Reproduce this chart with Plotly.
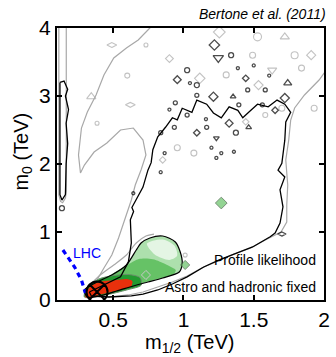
import plotly.graph_objects as go

# ---------------- data (TeV) ----------------
# outer profile-likelihood contour (black)
outer_x = [0.330, 0.434, 0.552, 0.608, 0.629, 0.622, 0.645, 0.633, 0.664, 0.712, 0.747, 0.770, 0.782, 0.817, 0.872,
           0.921, 0.956, 0.991, 1.060, 1.095, 1.165, 1.213, 1.269, 1.325, 1.387, 1.422, 1.464, 1.527, 1.603,
           1.666, 1.721, 1.763, 1.728, 1.721, 1.700, 1.673, 1.721, 1.687, 1.708, 1.687, 1.652, 1.617, 1.492,
           1.373, 1.255, 1.144, 1.026, 0.921, 0.817, 0.712, 0.629, 0.469, 0.344, 0.330]
outer_y = [0.118, 0.22, 0.34, 0.56, 0.84, 1.18, 1.30, 1.36, 1.47, 1.66, 1.91, 2.02, 2.21, 2.40, 2.54,
           2.68, 2.65, 2.82, 2.76, 2.94, 2.88, 2.75, 2.68, 2.84, 2.79, 2.68, 2.76, 2.88, 2.84,
           2.94, 2.88, 2.76, 2.62, 2.35, 2.01, 1.91, 1.81, 1.62, 1.37, 1.13, 0.985, 0.93, 0.78,
           0.69, 0.59, 0.485, 0.34, 0.235, 0.147, 0.088, 0.06, 0.044, 0.06, 0.118]

# outer profile-likelihood contour (grey)
grey_x = [0.302, 0.364, 0.434, 0.490, 0.538, 0.587, 0.629, 0.657, 0.698, 0.733, 0.712, 0.643, 0.552, 0.455,
          0.364, 0.295, 0.267, 0.253, 0.274, 0.316, 0.378, 0.434, 0.504, 0.594, 0.678, 0.747, 0.803,
          2.07, 2.07, 1.965, 1.861, 1.791, 1.763, 1.749, 1.728, 1.742, 1.735, 1.735, 1.694, 1.582, 1.478,
          1.360, 1.248, 1.130, 1.026, 0.921, 0.817, 0.712, 0.608, 0.469, 0.344, 0.302]
grey_y = [0.088, 0.221, 0.471, 0.662, 0.912, 1.206, 1.471, 1.691, 1.912, 2.132, 2.353, 2.529, 2.500, 2.309,
          2.176, 1.985, 1.868, 2.132, 2.529, 2.765, 3.015, 3.309, 3.559, 3.706, 3.824, 3.971, 4.088,
          4.088, 3.53, 3.235, 3.015, 2.824, 2.647, 2.353, 2.059, 1.691, 1.397, 1.147, 1.0, 0.882, 0.765,
          0.676, 0.574, 0.471, 0.353, 0.265, 0.191, 0.118, 0.074, 0.044, 0.044, 0.088]

# grey contour running just outside the green region
grey2_x = [0.316, 0.399, 0.504, 0.594, 0.664, 0.733, 0.790]
grey2_y = [0.176, 0.353, 0.515, 0.662, 0.838, 0.941, 0.970]

# narrow strip along the left edge
strip_grey_x = [0.113, 0.113, 0.125, 0.140, 0.160, 0.166, 0.166, 0.113]
strip_grey_y = [4.10, 1.55, 1.45, 1.43, 1.50, 1.60, 4.10, 4.10]
strip_black_x = [0.121, 0.121, 0.135, 0.160, 0.165, 0.176, 0.165, 0.182, 0.160, 0.176, 0.150, 0.121]
strip_black_y = [3.20, 1.55, 1.47, 1.55, 2.00, 2.30, 2.60, 2.80, 3.00, 3.10, 3.22, 3.20]

# "Astro and hadronic fixed" posterior regions
green_x = [0.295, 0.399, 0.490, 0.594, 0.664, 0.698, 0.761, 0.852, 0.942, 0.977, 0.991, 0.970, 0.852,
           0.747, 0.643, 0.524, 0.399, 0.316, 0.295]
green_y = [0.147, 0.279, 0.368, 0.515, 0.735, 0.838, 0.912, 0.941, 0.853, 0.706, 0.544, 0.412, 0.324,
           0.265, 0.206, 0.132, 0.059, 0.044, 0.147]
pale_x = [0.740, 0.852, 0.935, 0.955, 0.900, 0.795, 0.740]
pale_y = [0.830, 0.890, 0.800, 0.650, 0.590, 0.670, 0.830]
mid_x = [0.302, 0.364, 0.469, 0.573, 0.678, 0.782, 0.880, 0.945, 0.930, 0.800, 0.650, 0.500, 0.302]
mid_y = [0.074, 0.235, 0.353, 0.480, 0.600, 0.600, 0.520, 0.440, 0.380, 0.300, 0.220, 0.120, 0.074]
dark_x = [0.295, 0.316, 0.399, 0.504, 0.608, 0.690, 0.700, 0.600, 0.434, 0.295]
dark_y = [0.044, 0.190, 0.310, 0.360, 0.375, 0.330, 0.220, 0.150, 0.070, 0.044]
red_x = [0.302, 0.316, 0.364, 0.434, 0.524, 0.594, 0.636, 0.629, 0.573, 0.483, 0.399, 0.330, 0.302]
red_y = [0.044, 0.147, 0.235, 0.279, 0.294, 0.309, 0.279, 0.206, 0.162, 0.118, 0.074, 0.029, 0.044]

# small noisy islands of the profile likelihood
isl_black_x = [1.220, 1.248, 1.339, 1.387, 1.443, 1.095, 1.095, 1.213, 1.353, 1.457, 1.394, 1.561, 1.721,
               1.742, 1.026, 0.956, 1.046, 0.942, 0.838, 0.866, 0.935, 1.095, 1.165, 1.234, 1.325, 1.373,
               1.359, 1.464, 0.838, 0.643, 1.199, 1.234, 1.269, 1.026, 1.582, 1.652, 0.135, 1.700,
               1.500, 1.160, 0.900, 1.610]
isl_black_y = [3.75, 3.56, 3.60, 3.41, 3.26, 3.16, 3.01, 2.99, 2.99, 3.09, 2.87, 2.87, 2.97,
               3.19, 3.38, 3.24, 3.19, 2.90, 2.46, 2.16, 2.54, 2.46, 2.54, 2.38, 2.60, 2.46,
               2.18, 2.54, 1.88, 1.57, 2.24, 2.09, 2.16, 2.72, 3.09, 2.79, 1.35, 0.97,
               3.45, 2.66, 2.80, 3.30]
isl_black_s = [8, 9, 5, 3, 5, 5, 4, 7, 5, 4, 4, 4, 7,
               7, 5, 6, 3, 4, 4, 3, 4, 5, 4, 5, 6, 5,
               3, 5, 3, 3, 3, 3, 3, 4, 4, 5, 5, 6,
               3, 3, 3, 3]
isl_black_sym = ["diamond-open", "triangle-down-open", "circle-open", "circle-open", "diamond-open",
                 "circle-open", "circle-open", "diamond-open", "triangle-up-open", "circle-open",
                 "circle-open", "circle-open", "diamond-open", "triangle-up-open", "circle-open",
                 "diamond-open", "circle-open", "circle-open", "circle-open", "circle-open",
                 "circle-open", "diamond-open", "circle-open", "triangle-down-open", "diamond-open",
                 "circle-open", "circle-open", "triangle-up-open", "circle-open", "circle-open",
                 "circle-open", "circle-open", "circle-open", "circle-open", "circle-open",
                 "diamond-open", "circle-open", "diamond-wide-open", "circle-open", "circle-open",
                 "circle-open", "circle-open"]
isl_grey_x = [1.255, 1.527, 1.721, 1.791, 1.909, 1.492, 1.116, 1.304, 1.631, 1.840, 1.534, 1.700, 1.930,
              1.582, 1.443, 1.074, 0.490, 0.733, 0.622, 0.385, 0.344, 0.956, 0.852, 1.012, 0.60, 0.90]
isl_grey_y = [3.94, 3.87, 3.87, 3.60, 3.60, 3.60, 3.26, 3.31, 3.38, 3.41, 3.16, 2.82, 2.82,
              2.72, 2.62, 2.16, 3.75, 3.75, 2.87, 2.60, 2.99, 2.24, 2.06, 0.66, 3.30, 3.55]
isl_grey_s = [9, 8, 8, 7, 7, 6, 8, 6, 8, 6, 7, 6, 6,
              5, 5, 6, 7, 4, 7, 4, 8, 6, 5, 4, 5, 6]
isl_grey_sym = ["diamond-open", "circle-open", "triangle-up-open", "circle-open", "diamond-open",
                "circle-open", "diamond-open", "circle-open", "triangle-down-open", "circle-open",
                "diamond-open", "circle-open", "circle-open", "circle-open", "diamond-open",
                "circle-open", "diamond-wide-open", "circle-open", "diamond-wide-open", "circle-open",
                "triangle-up-open", "circle-open", "diamond-open", "circle-open", "circle-open",
                "diamond-open"]

# LHC exclusion line
lhc_x = [0.142, 0.225, 0.274, 0.302]
lhc_y = [0.735, 0.485, 0.294, 0.103]

# best-fit point and other points
best_x, best_y = [0.385], [0.118]
gpt_x, gpt_y = [1.269, 1.012], [1.426, 0.515]
opt_x, opt_y = [0.733], [0.368]

xticks = [0.5, 1, 1.5, 2]
yticks = [0, 1, 2, 3, 4]

FONT = "Liberation Sans, Arial, sans-serif"

fig = go.Figure()

def poly(x, y, line_color=None, width=0.0, fill=None, shape="linear"):
    fig.add_trace(go.Scatter(
        x=x, y=y, mode="lines", hoverinfo="skip", showlegend=False,
        line=dict(color=line_color or "rgba(0,0,0,0)", width=width, shape=shape,
                  smoothing=0.8 if shape == "spline" else None),
        fill="toself" if fill else None, fillcolor=fill))

# grey contours
poly(grey_x, grey_y, "#a8a8a8", 1.2)
poly(strip_grey_x, strip_grey_y, "#a8a8a8", 1.2)
poly(grey2_x, grey2_y, "#a8a8a8", 1.2, None, "spline")

# green/red filled regions
poly(green_x, green_y, None, 0, "#ade0ad", "spline")
poly(pale_x, pale_y, None, 0, "#e4f5e4", "spline")
poly(mid_x, mid_y, None, 0, "#66c266", "spline")
poly(dark_x, dark_y, "#6c8c6c", 1.0, "#239a30", "spline")
poly(red_x, red_y, None, 0, "#e8300c", "spline")
poly(green_x, green_y, "#000000", 1.2, None, "spline")

# black contours
poly(outer_x, outer_y, "#000000", 1.3)
poly(strip_black_x, strip_black_y, "#000000", 1.3)

# islands
fig.add_trace(go.Scatter(x=isl_grey_x, y=isl_grey_y, mode="markers", hoverinfo="skip", showlegend=False,
                         marker=dict(symbol=isl_grey_sym, size=isl_grey_s, color="#a8a8a8",
                                     line=dict(width=1.1, color="#a8a8a8"))))
fig.add_trace(go.Scatter(x=isl_black_x, y=isl_black_y, mode="markers", hoverinfo="skip", showlegend=False,
                         marker=dict(symbol=isl_black_sym, size=isl_black_s, color="#000000",
                                     line=dict(width=1.3, color="#000000"))))

# LHC line
fig.add_trace(go.Scatter(x=lhc_x, y=lhc_y, mode="lines", hoverinfo="skip", showlegend=False,
                         line=dict(color="#0000ff", width=3.2, dash="5px,4px")))

# points
fig.add_trace(go.Scatter(x=gpt_x, y=gpt_y, mode="markers", hoverinfo="skip", showlegend=False,
                         marker=dict(symbol="diamond", size=[9, 7], color="#66c266",
                                     line=dict(width=1, color="#406040"))))
fig.add_trace(go.Scatter(x=opt_x, y=opt_y, mode="markers", hoverinfo="skip", showlegend=False,
                         marker=dict(symbol="diamond-open", size=7, color="#c8c8c8",
                                     line=dict(width=1, color="#c8c8c8"))))
fig.add_trace(go.Scatter(x=best_x, y=best_y, mode="markers", hoverinfo="skip", showlegend=False,
                         marker=dict(symbol="circle-x-open", size=21, color="#000000",
                                     line=dict(width=2, color="#000000"))))

# labels
fig.add_annotation(x=0.197, y=0.69, text="LHC", showarrow=False, xanchor="left", yanchor="middle",
                   font=dict(family=FONT, size=14, color="#0000ff"))
fig.add_annotation(x=1.96, y=0.588, text="Profile likelihood", showarrow=False, xanchor="right",
                   yanchor="middle", font=dict(family=FONT, size=14, color="#000000"))
fig.add_annotation(x=1.96, y=0.19, text="Astro and hadronic fixed", showarrow=False, xanchor="right",
                   yanchor="middle", font=dict(family=FONT, size=14, color="#000000"))
fig.add_annotation(xref="paper", yref="paper", x=1.015, y=1.051, text="<i>Bertone et al. (2011)</i>",
                   showarrow=False, xanchor="right", yanchor="middle",
                   font=dict(family=FONT, size=14, color="#000000"))
fig.add_annotation(xref="paper", yref="paper", x=0.498, y=-0.105, text="m<sub>1/2</sub> (TeV)",
                   showarrow=False, xanchor="center", yanchor="top",
                   font=dict(family=FONT, size=20, color="#000000"))
fig.add_annotation(xref="paper", yref="paper", x=-0.128, y=0.545, text="m<sub>0</sub> (TeV)",
                   showarrow=False, xanchor="center", yanchor="middle", textangle=-90,
                   font=dict(family=FONT, size=20, color="#000000"))

axis_common = dict(showgrid=False, zeroline=False, showline=True, linecolor="#000000", linewidth=2,
                   mirror="ticks", ticks="inside", ticklen=5, tickwidth=1.5, tickcolor="#000000",
                   tickfont=dict(family=FONT, size=21, color="#000000"))
fig.update_xaxes(range=[0.1, 2], tickvals=xticks, ticktext=["0.5", "1", "1.5", "2"], **axis_common)
fig.update_yaxes(range=[0, 4], tickvals=yticks, ticktext=[str(v) for v in yticks], **axis_common)

fig.update_layout(width=336, height=357, margin=dict(l=57, r=6, t=28, b=57),
                  plot_bgcolor="#ffffff", paper_bgcolor="#ffffff", showlegend=False)

fig.write_html("out.html")
